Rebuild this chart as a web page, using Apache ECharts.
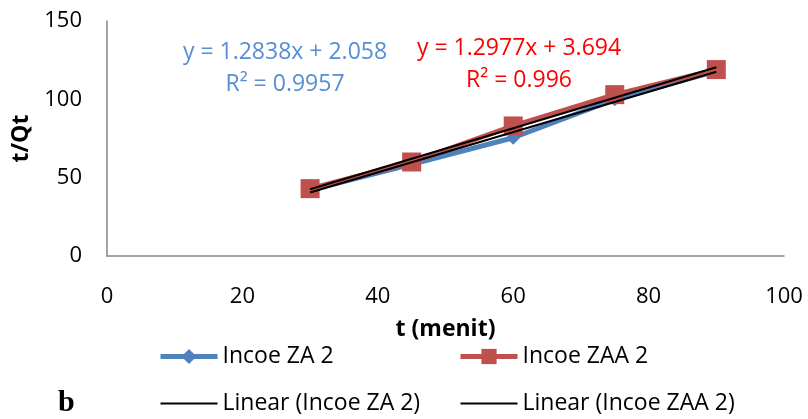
<!DOCTYPE html>
<html><head><meta charset="utf-8">
<script src="https://cdn.jsdelivr.net/npm/echarts@6/dist/echarts.min.js"></script>
<style>html,body{margin:0;padding:0;background:#fff}#c{width:808px;height:419px}</style>
</head><body><div id="c"></div>
<script>
var timeX = [30, 45, 60, 75, 90];
var zaValues = [42, 58.5, 75.5, 100, 118];
var zaaValues = [43, 60, 83, 103, 119];
var xTicks = [0, 20, 40, 60, 80, 100];
var yTicks = [0, 50, 100, 150];
var zaFit = {slope: 1.2838, intercept: 2.058, r2: '0.9957'};
var zaaFit = {slope: 1.2977, intercept: 3.694, r2: '0.996'};

function fitLine(fit){
  var x0 = timeX[0], x1 = timeX[timeX.length-1];
  return [[x0, fit.slope*x0+fit.intercept],[x1, fit.slope*x1+fit.intercept]];
}
function pairs(ys){ return timeX.map(function(x,i){return [x, ys[i]];}); }

var FONT = 'Open Sans, sans-serif';
var chart = echarts.init(document.getElementById('c'), null, {renderer:'canvas'});
var legText = {fontSize:23, color:'#000', fontFamily:FONT};
chart.setOption({
  animation:false,
  backgroundColor:'#fff',
  textStyle:{fontFamily:FONT},
  grid:{left:107, right:24, top:21, bottom:163, containLabel:false},
  xAxis:{type:'value', min:0, max:100, interval:20,
    name:'t (menit)', nameLocation:'middle', nameGap:62,
    nameTextStyle:{fontFamily:FONT, fontSize:23, fontWeight:'bold', color:'#000'},
    axisLine:{show:true, lineStyle:{color:'#868686', width:1.5}},
    axisTick:{show:false}, splitLine:{show:false},
    axisLabel:{fontSize:22, color:'#000', margin:30, fontFamily:FONT}},
  yAxis:{type:'value', min:0, max:150, interval:50,
    name:'t/Qt', nameLocation:'middle', nameGap:70, nameRotate:90,
    nameTextStyle:{fontFamily:FONT, fontSize:23, fontWeight:'bold', color:'#000'},
    axisLine:{show:true, lineStyle:{color:'#868686', width:1.5}},
    axisTick:{show:false}, splitLine:{show:false},
    axisLabel:{fontSize:22, color:'#000', margin:25, fontFamily:FONT}},
  legend:[
    {orient:'vertical', left:153, top:340, height:79, width:280, itemWidth:57, itemHeight:19, itemGap:24,
     data:[{name:'Incoe ZA 2', lineStyle:{width:5}},
           {name:'Linear (Incoe ZA 2)', lineStyle:{width:2}, itemStyle:{color:'rgba(0,0,0,0)', borderWidth:0}}],
     textStyle:legText},
    {orient:'vertical', left:453, top:340, height:79, width:330, itemWidth:57, itemHeight:19, itemGap:24,
     data:[{name:'Incoe ZAA 2', lineStyle:{width:5}},
           {name:'Linear (Incoe ZAA 2)', lineStyle:{width:2}, itemStyle:{color:'rgba(0,0,0,0)', borderWidth:0}}],
     textStyle:legText}
  ],
  graphic:[
    {type:'text', x:285, y:52, style:{text:'y = 1.2838x + 2.058', fill:'#558ED5', font:'23px '+FONT, align:'center', verticalAlign:'middle'}},
    {type:'text', x:285, y:84, style:{text:'R² = '+zaFit.r2, fill:'#558ED5', font:'23px '+FONT, align:'center', verticalAlign:'middle'}},
    {type:'text', x:519, y:48, style:{text:'y = 1.2977x + 3.694', fill:'#FF0000', font:'23px '+FONT, align:'center', verticalAlign:'middle'}},
    {type:'text', x:519, y:80, style:{text:'R² = '+zaaFit.r2, fill:'#FF0000', font:'23px '+FONT, align:'center', verticalAlign:'middle'}},
    {type:'text', x:58, y:403, style:{text:'b', fill:'#000', font:'bold 30px Liberation Serif, serif', verticalAlign:'middle'}}
  ],
  series:[
    {name:'Incoe ZA 2', type:'line', data:pairs(zaValues), symbol:'diamond', symbolSize:14,
     lineStyle:{color:'#4F81BD', width:5}, itemStyle:{color:'#4F81BD'}, z:2},
    {name:'Incoe ZAA 2', type:'line', data:pairs(zaaValues), symbol:'rect', symbolSize:19,
     lineStyle:{color:'#C0504D', width:5}, itemStyle:{color:'#C0504D'}, z:3},
    {name:'Linear (Incoe ZA 2)', type:'line', data:fitLine(zaFit), symbol:'none',
     lineStyle:{color:'#000', width:2}, itemStyle:{color:'#000'}, z:4},
    {name:'Linear (Incoe ZAA 2)', type:'line', data:fitLine(zaaFit), symbol:'none',
     lineStyle:{color:'#000', width:2}, itemStyle:{color:'#000'}, z:4}
  ]
});
</script></body></html>
